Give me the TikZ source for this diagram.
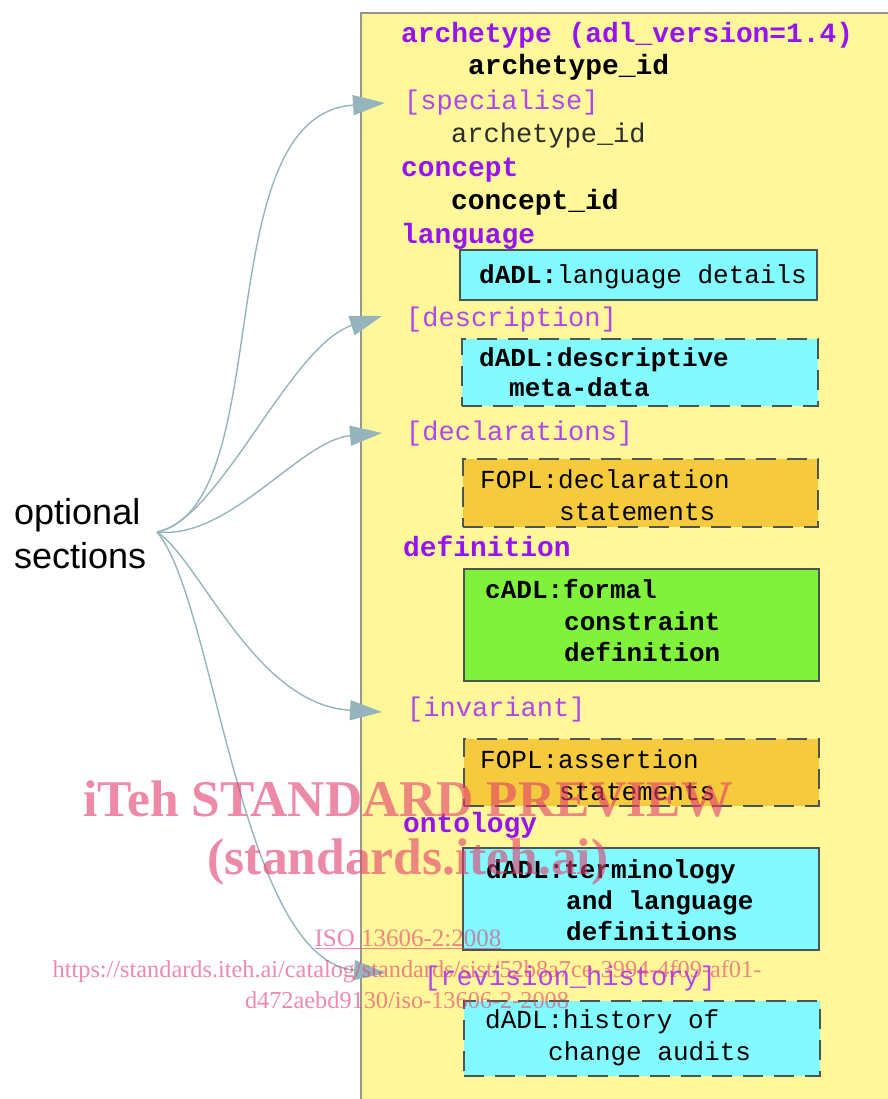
\documentclass[tikz,border=0pt]{standalone}
\usepackage{fontspec}
\setmainfont{Liberation Serif}
\setsansfont{Liberation Sans}
\setmonofont{Liberation Mono}
\usetikzlibrary{arrows.meta}
\definecolor{kwpurple}{RGB}{150,20,240}
\definecolor{optpurple}{RGB}{175,70,235}
\definecolor{paneyellow}{RGB}{255,247,153}
\definecolor{panegrey}{RGB}{150,150,140}
\definecolor{boxcyan}{RGB}{130,250,255}
\definecolor{boxorange}{RGB}{245,202,60}
\definecolor{boxgreen}{RGB}{128,242,60}
\definecolor{boxedge}{RGB}{75,85,85}
\definecolor{arrowcol}{RGB}{150,180,188}
\definecolor{darktext}{RGB}{45,45,45}
\definecolor{wmark}{RGB}{225,60,110}
\newcommand\adlfont{\ttfamily\fontsize{27}{33}\selectfont}
\newcommand\hdrfont{\ttfamily\fontsize{27.9}{33}\selectfont}
\newcommand\inboxfont{\ttfamily\fontsize{26}{33}\selectfont}
\begin{document}
\begin{tikzpicture}[x=1pt,y=-1pt,
  txt/.style={font=\adlfont, anchor=mid west, inner sep=0pt, text=darktext, yshift=-6pt},
  kw/.style={txt, text=kwpurple, font=\hdrfont\bfseries},
  bld/.style={txt, text=black, font=\hdrfont\bfseries},
  opt/.style={txt, text=optpurple},
  intxt/.style={txt, text=black, font=\inboxfont},
  inbld/.style={txt, text=black, font=\inboxfont\bfseries},
  boxbase/.style={draw=boxedge, line width=2.2pt, anchor=north west, inner sep=0pt},
  cyanbox/.style={boxbase, fill=boxcyan},
  orangebox/.style={boxbase, fill=boxorange},
  greenbox/.style={boxbase, fill=boxgreen},
  dashedbox/.style={dash pattern=on 20pt off 11pt},
  conn/.style={draw=arrowcol, line width=1.4pt, -{Triangle[length=32pt,width=20pt]}, arrowcol},
  wm/.style={text=wmark, opacity=0.6, inner sep=0pt, anchor=base}
]
\useasboundingbox (0,0) rectangle (887,1099);
% main panel
\node[draw=panegrey, fill=paneyellow, line width=2pt, anchor=north west, inner sep=0pt,
      minimum width=540pt, minimum height=1100pt] (panel) at (360,12) {};

% header lines
\node[kw] (arch) at (401,34) {archetype (adl\_version=1.4)};
\node[bld] (archid) at (468,66) {archetype\_id};
\node[opt] (spec) at (404,101) {[specialise]};
\node[txt] (specid) at (451,134) {archetype\_id};
\node[kw] (concept) at (401,168) {concept};
\node[bld] (conceptid) at (451,201) {concept\_id};
\node[kw] (language) at (401,235) {language};

% boxes
\node[cyanbox, minimum width=357pt, minimum height=50pt] (b1) at (459,249) {};
\node[intxt] (b1t) at (479,275) {\textbf{dADL:}language details};

\node[opt] (descr) at (406,318) {[description]};
\node[cyanbox, dashedbox, minimum width=356pt, minimum height=67pt] (b2) at (461,338) {};
\node[inbld] (b2a) at (479,358) {dADL:descriptive};
\node[inbld] (b2b) at (509,388) {meta-data};

\node[opt] (decl) at (406,432) {[declarations]};
\node[orangebox, dashedbox, minimum width=355pt, minimum height=68pt] (b3) at (462,458) {};
\node[intxt] (b3a) at (480,480) {FOPL:declaration};
\node[intxt] (b3b) at (559,512) {statements};

\node[kw] (defn) at (403,548) {definition};
\node[greenbox, minimum width=355pt, minimum height=112pt] (b4) at (463,568) {};
\node[inbld] (b4a) at (485,590) {cADL:formal};
\node[inbld] (b4b) at (564,622) {constraint};
\node[inbld] (b4c) at (564,653) {definition};

\node[opt] (inv) at (407,708) {[invariant]};
\node[orangebox, dashedbox, minimum width=355pt, minimum height=67pt] (b5) at (463,738) {};
\node[intxt] (b5a) at (480,760) {FOPL:assertion};
\node[intxt] (b5b) at (559,792) {statements};

\node[kw] (onto) at (403,824) {ontology};
\node[cyanbox, minimum width=356pt, minimum height=102pt] (b6) at (462,847) {};
\node[inbld] (b6a) at (486,870) {dADL:terminology};
\node[inbld] (b6b) at (566,901) {and language};
\node[inbld] (b6c) at (566,932) {definitions};

\node[opt] (rev) at (424,977) {[revision\_history]};
\node[cyanbox, dashedbox, minimum width=356pt, minimum height=75pt] (b7) at (463,1000) {};
\node[intxt] (b7a) at (485,1020) {dADL:history of};
\node[intxt] (b7b) at (548,1052) {change audits};

% optional sections label
\node[font=\sffamily\fontsize{36}{44}\selectfont, align=left, anchor=west, inner sep=0pt] (optsec) at (14,534) {optional\\sections};
\coordinate (src) at (157,532);
\coordinate (t1) at (385,103);
\coordinate (t2) at (382,316);
\coordinate (t3) at (382,433);
\coordinate (t4) at (382,712);
\coordinate (t5) at (386,973);

\draw[conn] (src) .. controls (280,505) and (205,115) .. (t1);
\draw[conn] (src) .. controls (220,520) and (290,345) .. (t2);
\draw[conn] (src) .. controls (230,540) and (300,440) .. (t3);
\draw[conn] (src) .. controls (200,560) and (255,705) .. (t4);
\draw[conn] (src) .. controls (215,600) and (240,960) .. (t5);

% watermark
\node[wm, font=\rmfamily\bfseries\fontsize{51.5}{51.5}\selectfont] (wm1) at (408,816) {iTeh STANDARD PREVIEW};
\node[wm, font=\rmfamily\bfseries\fontsize{51.5}{51.5}\selectfont] (wm2) at (408,874) {(standards.iteh.ai)};
\node[wm, font=\rmfamily\fontsize{25}{25}\selectfont] (wm3) at (408,946) {\underline{ISO 13606-2:2008}};
\node[wm, font=\rmfamily\fontsize{24.3}{24.3}\selectfont] (wm4) at (407,977) {https://standards.iteh.ai/catalog/standards/sist/52b8a7ce-3994-4f09-af01-};
\node[wm, font=\rmfamily\fontsize{24.3}{24.3}\selectfont] (wm5) at (407,1008) {d472aebd9130/iso-13606-2-2008};
\end{tikzpicture}
\end{document}
